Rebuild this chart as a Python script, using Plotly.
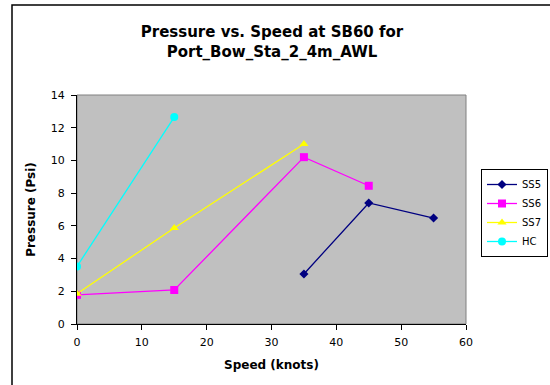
import plotly.graph_objects as go

ss5_x = [35, 45, 55]
ss5_y = [3.06, 7.4, 6.48]
ss6_x = [0, 15, 35, 45]
ss6_y = [1.78, 2.08, 10.2, 8.45]
ss7_x = [0, 15, 35]
ss7_y = [1.85, 5.87, 11.0]
hc_x = [0, 15]
hc_y = [3.52, 12.65]

series = [
    ("SS5", ss5_x, ss5_y, "#000080", "diamond", 7),
    ("SS6", ss6_x, ss6_y, "#FF00FF", "square", 8),
    ("SS7", ss7_x, ss7_y, "#FFFF00", "triangle-up", 8),
    ("HC", hc_x, hc_y, "#00FFFF", "circle", 8),
]

fig = go.Figure()
for name, xs, ys, col, sym, sz in series:
    fig.add_trace(go.Scatter(
        x=xs, y=ys, name=name, mode="lines+markers", legendgroup=name,
        line=dict(color=col, width=1.3),
        marker=dict(color=col, symbol=sym, size=sz, line=dict(width=0)),
    ))

W, H = 550, 385
L, R, T, B = 77, 2, 95, 61
plot_right = 466
pw, ph = W - L - R, H - T - B
dom_end = (plot_right - L) / pw

def px(x):
    return (x - L) / pw

def py(y):
    return (H - B - y) / ph

FONT = "DejaVu Sans, Arial, sans-serif"

fig.update_layout(
    width=W, height=H,
    margin=dict(l=L, r=R, t=T, b=B, pad=0, autoexpand=False),
    paper_bgcolor="white",
    plot_bgcolor="#C0C0C0",
    font=dict(family=FONT, color="black", size=11),
    title=dict(
        text="<b>Pressure vs. Speed at SB60 for<br>Port_Bow_Sta_2_4m_AWL</b>",
        x=272 / W, xanchor="center", y=1 - 37 / H, yanchor="middle",
        font=dict(size=15, color="black", family=FONT),
    ),
    showlegend=True,
    legend=dict(
        x=px(548), xanchor="right", y=py(169), yanchor="top",
        bordercolor="black", borderwidth=1, bgcolor="white",
        font=dict(size=10, color="black", family=FONT),
        itemwidth=30, tracegroupgap=5, traceorder="normal",
    ),
    xaxis=dict(
        domain=[0, dom_end],
        range=[0, 60], dtick=10, tick0=0,
        showgrid=False, zeroline=False,
        showline=True, linecolor="black", linewidth=1,
        ticks="outside", ticklen=5, tickcolor="black",
        tickfont=dict(size=11), ticklabelstandoff=3,
        title=dict(text="<b>Speed (knots)</b>", font=dict(size=12), standoff=12),
    ),
    yaxis=dict(
        range=[0, 14], dtick=2, tick0=0,
        showgrid=False, zeroline=False,
        showline=True, linecolor="black", linewidth=1,
        ticks="outside", ticklen=5, tickcolor="black",
        tickfont=dict(size=11), ticklabelstandoff=4,
        title=dict(text="<b>Pressure (Psi)</b>", font=dict(size=12), standoff=12),
    ),
    shapes=[
        dict(type="rect", xref="x domain", yref="y domain",
             x0=0, x1=1, y0=0, y1=1, line=dict(color="#808080", width=1),
             layer="below"),
        dict(type="rect", xref="paper", yref="paper",
             x0=px(12), x1=px(600), y0=py(420), y1=py(5),
             line=dict(color="black", width=1.5)),
    ],
)

fig.write_html("out.html")
